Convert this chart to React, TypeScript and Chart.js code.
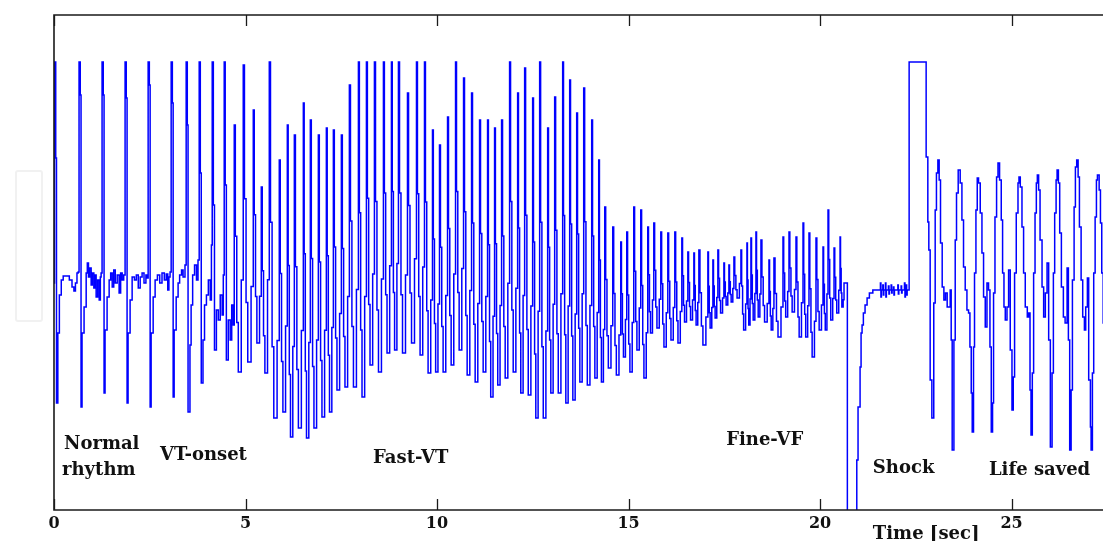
import React, { useEffect, useRef } from "react";
import { Chart, registerables } from "chart.js";

Chart.register(...registerables);

// ---------- DATA (time in seconds, amplitude in arbitrary ECG units) ----------
// Normal rhythm + VT onset: explicit vertices
const normalT = [
  0.0, 0.013, 0.045, 0.065, 0.1, 0.14, 0.19, 0.24, 0.4, 0.47, 0.52, 0.56, 0.6, 0.63,
  0.654, 0.685, 0.706, 0.732, 0.785, 0.84, 0.87, 0.9, 0.93, 0.97, 1.0, 1.04, 1.07, 1.1, 1.14, 1.18, 1.21, 1.23,
  1.255, 1.286, 1.307, 1.333, 1.386, 1.44, 1.48, 1.52, 1.56, 1.6, 1.65, 1.7, 1.74, 1.78, 1.82,
  1.856, 1.887, 1.908, 1.934, 1.987, 2.04, 2.1, 2.15, 2.2, 2.25, 2.3, 2.35, 2.4, 2.43,
  2.458, 2.489, 2.51, 2.536, 2.589, 2.64, 2.7, 2.76, 2.82, 2.88, 2.93, 2.97, 3.0, 3.03,
  3.059, 3.09, 3.111, 3.137, 3.19, 3.24, 3.28, 3.33, 3.37, 3.42,
  3.451, 3.48, 3.5, 3.55, 3.58, 3.62, 3.67, 3.72, 3.76,
  3.791, 3.82, 3.845, 3.89, 3.93, 3.98, 4.03, 4.08, 4.11,
  4.131, 4.16, 4.19, 4.24, 4.29, 4.34, 4.39, 4.42,
  4.444, 4.47, 4.5, 4.55, 4.6, 4.64, 4.68,
];
const normalV = [
  0.02, 2.23, 1.27, -1.18, -0.48, -0.1, 0.05, 0.09, 0.05, -0.02, -0.06, 0.02, 0.12, 0.13,
  2.23, 1.9, -1.22, -0.48, -0.22, 0.12, 0.22, 0.08, 0.17, 0.0, 0.12, -0.03, 0.1, -0.12, 0.05, -0.15, 0.08, 0.12,
  2.23, 1.9, -1.08, -0.45, -0.12, 0.05, 0.12, -0.02, 0.15, 0.02, 0.1, -0.08, 0.12, 0.05, 0.1,
  2.23, 1.87, -1.18, -0.48, -0.15, 0.08, 0.05, 0.1, -0.03, 0.08, 0.12, 0.02, 0.1, 0.07,
  2.23, 2.0, -1.22, -0.48, -0.12, 0.05, 0.1, 0.02, 0.12, 0.05, 0.11, -0.05, 0.08, 0.13,
  2.23, 1.82, -1.12, -0.45, -0.12, 0.02, 0.1, 0.15, 0.08, 0.2,
  2.23, 1.6, -1.27, -0.6, -0.2, 0.1, 0.2, 0.05, 0.25,
  2.23, 1.12, -0.98, -0.55, -0.2, -0.1, 0.05, -0.15, 0.4,
  2.23, 0.8, -0.65, -0.25, -0.35, -0.1, -0.3, 0.1,
  2.23, 1.0, -0.75, -0.35, -0.55, -0.2, -0.4,
];

// Fast VT and fine VF: one entry per beat (upstroke time, peak, following trough)
const beatT = [
  4.706, 4.941, 5.203, 5.412, 5.621, 5.882, 6.092, 6.275, 6.51, 6.693,
  6.902, 7.111, 7.294, 7.503, 7.712, 7.948, 8.157, 8.366, 8.601, 8.81,
  8.993, 9.229, 9.464, 9.673, 9.882, 10.065, 10.275, 10.484, 10.693, 10.902,
  11.111, 11.32, 11.503, 11.686, 11.895, 12.105, 12.288, 12.497, 12.68, 12.889,
  13.072, 13.281, 13.464, 13.647, 13.83, 14.039, 14.222,
  14.379, 14.588, 14.797, 14.954, 15.137, 15.32, 15.503, 15.66, 15.843, 16.026,
  16.209, 16.392, 16.549, 16.706, 16.837, 17.072, 17.203, 17.333, 17.49, 17.621,
  17.752, 17.935, 18.092, 18.196, 18.327, 18.458, 18.667, 18.797, 19.033, 19.19,
  19.373, 19.556, 19.712, 19.895, 20.078, 20.209, 20.366, 20.523,
];
const beatPeak = [
  1.6, 2.2, 1.75, 0.98, 2.23, 1.25, 1.6, 1.5, 1.82, 1.65,
  1.5, 1.57, 1.55, 1.5, 2.0, 2.23, 2.23, 2.23, 2.23, 2.23,
  2.23, 1.92, 2.23, 2.23, 1.55, 1.4, 1.68, 2.23, 2.07, 1.92,
  1.65, 1.65, 1.57, 1.65, 2.23, 1.92, 2.17, 1.87, 2.23, 1.57,
  1.88, 2.23, 2.05, 1.72, 1.97, 1.65, 1.25,
  0.78, 0.58, 0.43, 0.53, 0.78, 0.75, 0.58, 0.62, 0.53, 0.52,
  0.53, 0.47, 0.33, 0.32, 0.35, 0.33, 0.25, 0.35, 0.22, 0.2,
  0.28, 0.35, 0.42, 0.47, 0.53, 0.45, 0.25, 0.27, 0.48, 0.53,
  0.48, 0.62, 0.52, 0.47, 0.38, 0.75, 0.37, 0.48,
];
const beatTrough = [
  -0.87, -0.77, -0.58, -0.88, -1.33, -1.27, -1.52, -1.43, -1.53, -1.43,
  -1.32, -1.27, -1.05, -1.02, -1.02, -1.12, -0.8, -0.87, -0.68, -0.65,
  -0.68, -0.58, -0.7, -0.88, -0.87, -0.87, -0.8, -0.65, -0.9, -0.97,
  -0.87, -1.12, -1.0, -0.93, -0.87, -1.08, -1.1, -1.33, -1.33, -1.08,
  -1.08, -1.18, -1.15, -0.97, -1.0, -0.93, -0.97,
  -0.83, -0.9, -0.72, -0.87, -0.65, -0.93, -0.48, -0.43, -0.62, -0.55,
  -0.58, -0.37, -0.35, -0.4, -0.6, -0.43, -0.33, -0.28, -0.2, -0.17,
  -0.13, -0.45, -0.4, -0.35, -0.32, -0.37, -0.45, -0.52, -0.32, -0.27,
  -0.52, -0.52, -0.72, -0.45, -0.45, -0.35, -0.28, -0.22,
];

// Shock: clipped deflection, recovery and pacing artefacts, then the shock pulse
const shockT = [
  20.627, 20.714, 20.96, 20.993, 21.046, 21.072, 21.098, 21.132, 21.176, 21.229, 21.289, 21.379,
  21.577, 21.59, 21.603, 21.64, 21.653, 21.666, 21.708, 21.72, 21.733, 21.786, 21.8, 21.812,
  21.857, 21.87, 21.882, 21.917, 21.93, 21.943, 22.032, 22.045, 22.058, 22.118, 22.13, 22.143,
  22.205, 22.218, 22.23, 22.249, 22.262, 22.275, 22.327,
];
const shockV = [
  0.02, -2.6, -1.75, -1.22, -0.82, -0.48, -0.4, -0.28, -0.2, -0.13, -0.08, -0.05,
  0.02, -0.12, -0.05, 0.0, -0.1, -0.05, 0.02, -0.12, -0.05, -0.01, -0.09, -0.05,
  0.0, -0.08, -0.05, -0.02, -0.1, -0.05, 0.0, -0.09, -0.05, -0.01, -0.08, -0.05,
  0.02, -0.12, -0.05, 0.0, -0.1, -0.05, 2.23,
];

// Life saved: restored rhythm
const recoveryT = [
  22.771, 22.815, 22.841, 22.876, 22.92, 22.97, 23.007, 23.04, 23.077, 23.111, 23.146, 23.19, 23.234, 23.276, 23.32, 23.399,
  23.425, 23.451, 23.496, 23.53, 23.564, 23.608, 23.66, 23.705, 23.747, 23.791, 23.836, 23.878, 23.914, 23.948,
  23.974, 24.008, 24.034, 24.071, 24.105, 24.139, 24.183, 24.228, 24.27, 24.314, 24.359, 24.4, 24.437,
  24.471, 24.505, 24.531, 24.568, 24.61, 24.647, 24.688, 24.732, 24.767, 24.803, 24.837, 24.882, 24.924, 24.967,
  25.012, 25.046, 25.08, 25.124, 25.169, 25.195, 25.229, 25.273, 25.315, 25.359, 25.412, 25.446, 25.483,
  25.509, 25.543, 25.577, 25.614, 25.648, 25.674, 25.708, 25.745, 25.797, 25.839, 25.883, 25.928, 25.97,
  26.014, 26.059, 26.093, 26.127, 26.164, 26.19, 26.224, 26.258, 26.302, 26.354, 26.399, 26.451, 26.485,
  26.519, 26.556, 26.59, 26.634, 26.668, 26.702, 26.739, 26.773, 26.817, 26.859, 26.903, 26.937, 26.981, 27.015, 27.06,
  27.078, 27.112, 27.146, 27.183, 27.217, 27.243, 27.288, 27.322, 27.356, 27.393, 27.45, 27.55,
];
const recoveryV = [
  1.28, 0.63, 0.35, -0.95, -1.33, -0.18, 0.75, 1.12, 1.25, 1.05, 0.42, -0.02, -0.15, -0.08, -0.22, -0.05,
  -0.55, -1.65, -0.55, 0.45, 0.92, 1.15, 1.02, 0.65, 0.18, -0.05, -0.25, -0.28, -0.62, -1.08,
  -1.47, -0.62, 0.12, 0.75, 1.07, 1.02, 0.72, 0.32, -0.12, -0.42, 0.02, -0.05, -0.62,
  -1.47, -1.18, -0.08, 0.68, 1.08, 1.22, 1.05, 0.65, 0.12, -0.22, -0.35, -0.22, 0.15, -0.65,
  -1.25, -0.92, 0.12, 0.72, 1.02, 1.08, 0.98, 0.58, 0.12, -0.22, -0.32, -0.28, -1.05,
  -1.5, -0.88, 0.12, 0.72, 1.02, 1.1, 0.95, 0.45, -0.02, -0.32, -0.08, 0.22, -0.55,
  -1.62, -0.88, 0.12, 0.72, 1.05, 1.15, 1.02, 0.52, -0.02, -0.32, -0.38, 0.17, -0.55,
  -1.65, -1.05, 0.05, 0.78, 1.18, 1.25, 1.08, 0.58, 0.05, -0.32, -0.45, -0.22, 0.07, -0.95, -1.42,
  -1.65, -0.88, 0.12, 0.68, 1.05, 1.1, 0.95, 0.62, 0.12, -0.38, -0.45, -0.3,
];

const tickValues = [0, 5, 10, 15, 20, 25];

const annotations = [
  { text: "Normal", t: 0.26, v: -1.59 },
  { text: "rhythm", t: 0.21, v: -1.85 },
  { text: "VT-onset", t: 2.77, v: -1.7 },
  { text: "Fast-VT", t: 8.33, v: -1.73 },
  { text: "Fine-VF", t: 17.55, v: -1.55 },
  { text: "Shock", t: 21.38, v: -1.83 },
  { text: "Life saved", t: 24.41, v: -1.85 },
];
const xTitle = { text: "Time [sec]", t: 21.38 };

// ---------- build the polyline ----------
function buildPoints() {
  const pts: { x: number; y: number }[] = [];
  normalT.forEach((t, i) => pts.push({ x: t, y: normalV[i] }));
  for (let i = 0; i < beatT.length; i++) {
    const t = beatT[i];
    const P = beatPeak[i];
    const T = beatTrough[i];
    const last = i + 1 >= beatT.length;
    const tn = last ? shockT[0] : beatT[i + 1];
    const Pn = last ? shockV[0] : beatPeak[i + 1];
    const dt = tn - t;
    pts.push({ x: t, y: P });
    pts.push({ x: t + dt * 0.12, y: P - (P - T) * 0.45 });
    pts.push({ x: t + dt * 0.28, y: P - (P - T) * 0.8 });
    pts.push({ x: t + dt * 0.45, y: T });
    pts.push({ x: t + dt * 0.78, y: T + (Pn - T) * 0.3 });
  }
  shockT.forEach((t, i) => pts.push({ x: t, y: shockV[i] }));
  recoveryT.forEach((t, i) => pts.push({ x: t, y: recoveryV[i] }));
  return pts;
}

const FONT = "'DejaVu Serif', 'Liberation Serif', serif";

const framePlugin = {
  id: "frame",
  afterDatasetsDraw(chart: any) {
    const { ctx, chartArea, scales } = chart;
    const { left, top, bottom, right } = chartArea;
    ctx.save();
    ctx.strokeStyle = "#1a1a1a";
    ctx.lineWidth = 1.6;
    ctx.beginPath();
    ctx.moveTo(right, top);
    ctx.lineTo(left, top);
    ctx.lineTo(left, bottom);
    ctx.lineTo(right, bottom);
    ctx.stroke();
    ctx.lineWidth = 1.3;
    tickValues.forEach((v) => {
      const x = Math.round(scales.x.getPixelForValue(v)) + 0.5;
      ctx.beginPath();
      ctx.moveTo(x, bottom);
      ctx.lineTo(x, bottom - 11);
      ctx.moveTo(x, top);
      ctx.lineTo(x, top + 11);
      ctx.stroke();
    });
    ctx.fillStyle = "#111";
    ctx.font = `bold 18px ${FONT}`;
    ctx.textAlign = "left";
    ctx.textBaseline = "middle";
    annotations.forEach((a) => {
      ctx.fillText(a.text, scales.x.getPixelForValue(a.t), scales.y.getPixelForValue(a.v));
    });
    ctx.fillText(xTitle.text, scales.x.getPixelForValue(xTitle.t), bottom + 24);
    ctx.restore();
  },
};

export default function App() {
  const ref = useRef<HTMLCanvasElement | null>(null);
  useEffect(() => {
    if (!ref.current) return;
    const chart = new Chart(ref.current, {
      type: "line",
      data: {
        datasets: [
          {
            data: buildPoints(),
            borderColor: "#0000ff",
            borderWidth: 1.5,
            pointRadius: 0,
            stepped: true,
            tension: 0,
            fill: false,
          },
        ],
      },
      options: {
        animation: false,
        responsive: false,
        devicePixelRatio: 1,
        parsing: false,
        normalized: true,
        layout: { padding: { left: 54, right: 10.6, top: 15, bottom: 0 } },
        plugins: { legend: { display: false }, tooltip: { enabled: false }, title: { display: false } },
        scales: {
          x: {
            type: "linear",
            min: 0,
            max: 28.6,
            afterBuildTicks: (scale: any) => {
              scale.ticks = tickValues.map((v) => ({ value: v }));
            },
            afterFit: (scale: any) => {
              scale.height = 31;
            },
            ticks: {
              includeBounds: false,
              autoSkip: false,
              maxRotation: 0,
              padding: 4,
              color: "#111",
              font: { family: FONT, weight: "bold", size: 16 },
            },
            grid: { display: false, drawTicks: false },
            border: { display: false },
          },
          y: { display: false, min: -2.25, max: 2.7 },
        },
      },
      plugins: [framePlugin],
    } as any);
    return () => chart.destroy();
  }, []);

  return (
    <div
      style={{
        position: "fixed",
        left: 0,
        top: 0,
        width: 1103,
        height: 541,
        overflow: "hidden",
        background: "#fff",
      }}
    >
      <div
        style={{
          position: "absolute",
          left: 15,
          top: 170,
          width: 24,
          height: 148,
          border: "2px solid #f1f1f1",
          borderRadius: 3,
        }}
      />
      <canvas ref={ref} width={1160} height={541} style={{ position: "absolute", left: 0, top: 0, width: 1160, height: 541 }} />
    </div>
  );
}
